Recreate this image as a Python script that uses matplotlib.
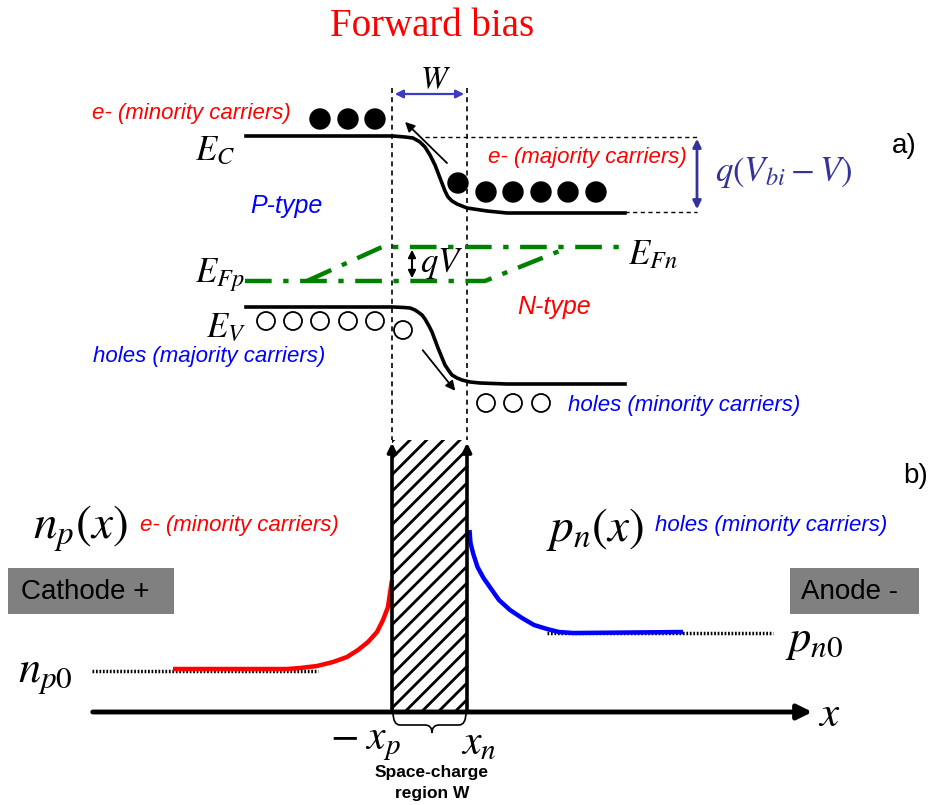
import numpy as np
import matplotlib
matplotlib.use('Agg')
import matplotlib.pyplot as plt
from matplotlib.patches import Circle, Rectangle, PathPatch
from matplotlib.path import Path

# band diagram (pixel coords, y goes down)
ec_x = [246, 393, 405, 413, 420, 425, 430, 435, 440, 445, 448, 452, 457, 462, 467, 487, 507, 625]
ec_y = [136, 136, 137, 138, 142, 147, 155, 165, 178, 191, 197, 201, 204, 206, 208, 211, 213, 213]
ev_x = [246, 393, 404, 410, 415, 418, 422, 425, 429, 432, 438, 445, 449, 452, 457, 462, 470, 480, 507, 625]
ev_y = [307, 307, 307.5, 308, 310, 312, 315, 319, 326, 332, 348, 365, 371, 375, 378, 380, 382, 383, 384, 384]
efp_x = [245, 485, 567]
efp_y = [281, 281, 248]
efn_x = [307, 382, 625]
efn_y = [281, 247, 247]

e_dots_x = [320, 348, 375, 458, 486, 513, 541, 568, 596]
e_dots_y = [119, 119, 119, 183, 192, 192, 192, 192, 192]
h_dots_x = [266, 293, 320, 348, 375, 403, 486, 513, 541]
h_dots_y = [321, 321, 321, 321, 321, 330, 403, 403, 403]

# carrier profiles
np_x = [173, 287, 300, 317, 333, 347, 358, 368, 377, 383, 388, 390, 392]
np_y = [669, 669, 668, 666, 662, 657, 650, 642, 632, 620, 607, 593, 580]
pn_x = [469.5, 470.5, 473, 477.5, 483.5, 490.5, 499, 510, 522, 534, 547, 559, 573, 683]
pn_y = [530, 543, 553, 567, 578, 588, 600, 610, 618, 625, 629, 632, 633, 632]

x_p, x_n = 392, 467
sans = 'Liberation Sans'

plt.rcParams['mathtext.fontset'] = 'stix'
plt.rcParams['hatch.linewidth'] = 2.0

fig = plt.figure(figsize=(9.29, 8.05), dpi=100)
ax = fig.add_axes([0, 0, 1, 1])
ax.set_xlim(0, 929)
ax.set_ylim(805, 0)
ax.axis('off')

ax.text(432, 27, 'Forward bias', color='red', fontsize=28, family='Liberation Serif',
        ha='center', va='center')

# depletion edges
for xv in [x_p, x_n]:
    ax.plot([xv, xv], [88, 440], color='k', lw=1.2, ls=(0, (3, 2.5)))
ax.plot([425, 697], [137, 137], color='k', lw=1.0, ls=(0, (3, 2.5)))
ax.plot([625, 697], [212, 212], color='k', lw=1.0, ls=(0, (3, 2.5)))

ax.annotate('', xy=(x_p, 94), xytext=(x_n, 94),
            arrowprops=dict(arrowstyle='<|-|>', color='#3b3bc4', lw=1.6, mutation_scale=12))
ax.text(436, 80, r'$W$', fontsize=23, ha='center', va='center')

# bands
ax.plot(ec_x, ec_y, color='k', lw=2.6, solid_joinstyle='round')
ax.plot(ev_x, ev_y, color='k', lw=2.6, solid_joinstyle='round')
ax.plot(efp_x, efp_y, color='#008000', lw=3.2, dashes=(6, 2.6, 1.2, 2.6))
ax.plot(efn_x, efn_y, color='#008000', lw=3.2, dashes=(6, 2.6, 1.2, 2.6))

for cx, cy in zip(e_dots_x, e_dots_y):
    ax.add_patch(Circle((cx, cy), 10, color='k'))
for cx, cy in zip(h_dots_x, h_dots_y):
    ax.add_patch(Circle((cx, cy), 9, facecolor='white', edgecolor='k', lw=1.3))

ax.annotate('', xy=(403, 120), xytext=(449, 165),
            arrowprops=dict(arrowstyle='-|>', color='k', lw=1.3, mutation_scale=14))
ax.annotate('', xy=(457, 393), xytext=(421, 348),
            arrowprops=dict(arrowstyle='-|>', color='k', lw=1.3, mutation_scale=14))
ax.annotate('', xy=(697, 136), xytext=(697, 212),
            arrowprops=dict(arrowstyle='<|-|>', color='#333399', lw=2, mutation_scale=12))
ax.annotate('', xy=(412, 247), xytext=(412, 281),
            arrowprops=dict(arrowstyle='<|-|>', color='k', lw=1.5, mutation_scale=11))

ax.text(195, 150, r'$E_C$', fontsize=25, ha='left', va='center')
ax.text(195, 275, r'$E_{Fp}$', fontsize=25, ha='left', va='center')
ax.text(628, 254, r'$E_{Fn}$', fontsize=25, ha='left', va='center')
ax.text(206, 327, r'$E_V$', fontsize=25, ha='left', va='center')
ax.text(420, 263, r'$qV$', fontsize=25, ha='left', va='center')
ax.text(715, 172, r'$q\left(V_{bi}-V\right)$', fontsize=25, color='#333399', ha='left', va='center')

lab = dict(fontsize=16, style='italic', family=sans, ha='left', va='center')
ax.text(92, 113, 'e- (minority carriers)', color='red', **lab)
ax.text(488, 158, 'e- (majority carriers)', color='red', **lab)
ax.text(250, 206, 'P-type', color='blue', fontsize=18, style='italic', family=sans, ha='left', va='center')
ax.text(517, 307, 'N-type', color='red', fontsize=18, style='italic', family=sans, ha='left', va='center')
ax.text(93, 356, 'holes (majority carriers)', color='blue', **lab)
ax.text(568, 405, 'holes (minority carriers)', color='blue', **lab)
ax.text(892, 146, 'a)', fontsize=20, family=sans, ha='left', va='center')
ax.text(903, 476, 'b)', fontsize=20, family=sans, ha='left', va='center')

# space-charge region
ax.add_patch(Rectangle((x_p, 440), x_n - x_p, 272, facecolor='white', edgecolor='k',
                       lw=0, hatch='//'))
for xv in [x_p, x_n]:
    ax.annotate('', xy=(xv, 440), xytext=(xv, 713),
                arrowprops=dict(arrowstyle='-|>', color='k', lw=2.6, mutation_scale=13))

ax.annotate('', xy=(815, 712), xytext=(90, 712),
            arrowprops=dict(arrowstyle='-|>', color='k', lw=3.5, mutation_scale=22))
ax.text(829, 714, r'$x$', fontsize=31, ha='center', va='center')

verts = [(x_p + 1, 712), (x_p + 1, 725), (x_p + 8, 725), (425, 725), (432, 725), (432, 733),
         (432, 725), (439, 725), (x_n - 8, 725), (x_n - 1, 725), (x_n - 1, 712)]
codes = [Path.MOVETO, Path.CURVE3, Path.CURVE3, Path.LINETO, Path.CURVE3, Path.CURVE3,
         Path.CURVE3, Path.CURVE3, Path.LINETO, Path.CURVE3, Path.CURVE3]
ax.add_patch(PathPatch(Path(verts, codes), facecolor='none', edgecolor='k', lw=1.2))

ax.text(330, 742, r'$-\;x_p$', fontsize=30, ha='left', va='center')
ax.text(461, 742, r'$x_n$', fontsize=30, ha='left', va='center')
ax.text(432, 772, 'Space-charge', fontsize=12.5, weight='bold', family=sans, ha='center', va='center')
ax.text(432, 793, 'region W', fontsize=12.5, weight='bold', family=sans, ha='center', va='center')

# minority carrier profiles
ax.plot([92, 318], [671, 671], color='k', lw=2.5, ls=(0, (0.5, 0.5)))
ax.plot([547, 773], [633, 633], color='k', lw=2.5, ls=(0, (0.5, 0.5)))
ax.plot(np_x, np_y, color='red', lw=3.2, solid_capstyle='butt', solid_joinstyle='round')
ax.plot(pn_x, pn_y, color='blue', lw=3.2, solid_capstyle='butt', solid_joinstyle='round')

ax.text(33, 529, r'$n_p\left(x\right)$', fontsize=34, ha='left', va='center')
ax.text(546, 529, r'$p_n\left(x\right)$', fontsize=34, ha='left', va='center')
ax.text(140, 525, 'e- (minority carriers)', color='red', **lab)
ax.text(655, 525, 'holes (minority carriers)', color='blue', **lab)
ax.text(18, 674, r'$n_{p0}$', fontsize=32, ha='left', va='center')
ax.text(785, 640, r'$p_{n0}$', fontsize=32, ha='left', va='center')

ax.add_patch(Rectangle((8, 568), 166, 46, facecolor='#808080', edgecolor='none'))
ax.add_patch(Rectangle((790, 568), 129, 46, facecolor='#808080', edgecolor='none'))
ax.text(21, 592, 'Cathode +', fontsize=20, family=sans, ha='left', va='center')
ax.text(801, 592, 'Anode -', fontsize=20, family=sans, ha='left', va='center')

fig.savefig('out.png', dpi=100)
